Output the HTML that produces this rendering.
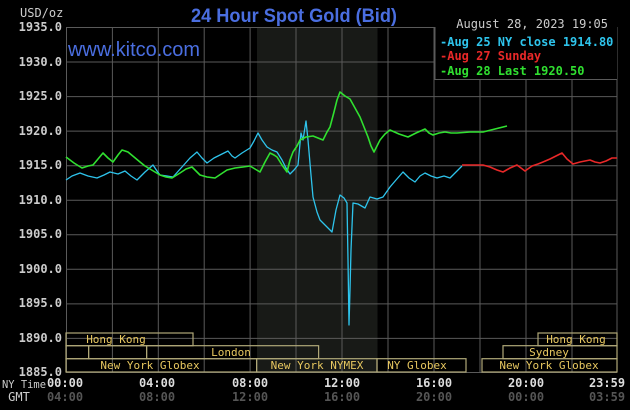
<!DOCTYPE html>
<html><head><meta charset="utf-8"><style>
body{margin:0;background:#000;}
svg{display:block}
.m{font-family:"DejaVu Sans Mono","Liberation Mono",monospace;}
</style></head><body>
<svg width="630" height="410" viewBox="0 0 630 410" xmlns="http://www.w3.org/2000/svg">
<rect width="630" height="410" fill="#000"/>
<rect x="257" y="27" width="120.5" height="345.5" fill="#181a17"/>
<g stroke="#5a5a5a" stroke-width="1">
<line x1="66" y1="27.5" x2="617" y2="27.5"/><line x1="66" y1="62" x2="617" y2="62"/>
<line x1="66" y1="96.6" x2="617" y2="96.6"/><line x1="66" y1="131.1" x2="617" y2="131.1"/>
<line x1="66" y1="165.7" x2="617" y2="165.7"/><line x1="66" y1="200.2" x2="617" y2="200.2"/>
<line x1="66" y1="234.8" x2="617" y2="234.8"/><line x1="66" y1="269.3" x2="617" y2="269.3"/>
<line x1="66" y1="303.9" x2="617" y2="303.9"/><line x1="66" y1="338.4" x2="617" y2="338.4"/>
<line x1="66" y1="372.5" x2="617" y2="372.5"/>
<line x1="66.5" y1="27" x2="66.5" y2="372"/><line x1="112.4" y1="27" x2="112.4" y2="372"/>
<line x1="158.3" y1="27" x2="158.3" y2="372"/><line x1="204.2" y1="27" x2="204.2" y2="372"/>
<line x1="250.1" y1="27" x2="250.1" y2="372"/><line x1="296" y1="27" x2="296" y2="372"/>
<line x1="342" y1="27" x2="342" y2="372"/><line x1="388" y1="27" x2="388" y2="372"/>
<line x1="434" y1="27" x2="434" y2="372"/><line x1="480" y1="27" x2="480" y2="372"/>
<line x1="526" y1="27" x2="526" y2="372"/><line x1="572" y1="27" x2="572" y2="372"/>
<line x1="617" y1="27" x2="617" y2="372"/>
</g>
<rect x="435" y="27" width="182" height="52" fill="#000"/>
<line x1="435" y1="79.5" x2="617" y2="79.5" stroke="#5a5a5a"/>
<line x1="435" y1="27" x2="435" y2="80" stroke="#5a5a5a"/>
<g class="m" font-size="12" fill="#ccc" text-anchor="end" font-weight="bold">
<text x="62" y="31">1935.0</text><text x="62" y="66">1930.0</text><text x="62" y="100">1925.0</text>
<text x="62" y="135">1920.0</text><text x="62" y="169">1915.0</text><text x="62" y="204">1910.0</text>
<text x="62" y="238">1905.0</text><text x="62" y="273">1900.0</text><text x="62" y="307">1895.0</text>
<text x="62" y="342">1890.0</text><text x="62" y="376">1885.0</text>
</g>
<text x="20" y="17" class="m" font-size="12" fill="#ccc">USD/oz</text>
<text x="294" y="22" font-family="Liberation Sans,sans-serif" font-size="19" font-weight="bold" fill="#4a6ee0" text-anchor="middle" textLength="206" lengthAdjust="spacingAndGlyphs">24 Hour Spot Gold (Bid)</text>
<text x="608" y="28" class="m" font-size="12" fill="#ccc" text-anchor="end">August 28, 2023 19:05</text>
<text x="68" y="56" font-family="Liberation Sans,sans-serif" font-size="20" fill="#4a6ee0" textLength="132" lengthAdjust="spacingAndGlyphs">www.kitco.com</text>
<g class="m" font-size="12" font-weight="bold">
<text x="440" y="46" fill="#2ec4ec">-Aug 25 NY close 1914.80</text>
<text x="440" y="60" fill="#e82828">-Aug 27 Sunday</text>
<text x="440" y="75" fill="#30e030">-Aug 28 Last 1920.50</text>
</g>
<g fill="none" stroke-width="1.3" stroke-linejoin="round">
<polyline stroke="#2ec4ec" points="66,180 72,176 80,173 88,176 97,178 104,175 110,172 118,174 125,171 131,176 137,180 145,172 153,165 157,171 160,175 167,176 173,177 182,167 190,158 197,152 202,158 207,163 214,158 220,155 228,151 232,156 235,158 242,153 250,148 254,141 258,133 262,140 267,147 272,150 277,152 282,160 286,168 290,174 294,170 298,165 301,133 303,140 306,121 308,140 311,175 313,197 317,212 320,220 324,224 327,227 330,230 332,232 336,210 340,195 344,198 347,203 348,260 349,325 350,290 351,250 353,203 358,204 365,208 370,197 377,199 383,197 390,187 396,180 403,172 409,178 415,182 420,176 425,173 431,176 437,178 444,176 450,178 456,172 462,166"/>
<polyline stroke="#30e030" stroke-width="1.6" points="66,157 74,163 82,168 88,166 93,165 98,159 103,153 108,158 113,162 118,155 122,150 128,152 134,157 140,162 145,166 150,169 155,172 160,175 166,177 172,178 180,173 186,169 192,167 196,171 200,175 207,177 215,178 221,174 227,170 235,168 243,167 250,166 255,169 260,172 265,162 270,153 274,155 277,157 282,165 287,172 290,160 293,152 297,146 300,140 306,137 313,136 318,138 323,140 327,132 330,127 334,112 337,100 340,92 345,96 350,99 355,108 360,117 364,127 368,137 371,146 374,152 377,146 380,140 385,134 390,130 399,134 408,137 416,133 425,129 429,133 433,135 439,133 445,132 451,133 457,133 470,132 483,132 495,129 507,126"/>
<polyline stroke="#e82828" stroke-width="1.6" points="462,165 472,165 483,165 490,167 497,170 503,172 510,168 517,165 521,168 525,171 532,166 538,164 543,162 550,159 556,156 562,153 567,159 573,164 580,162 590,160 595,162 600,163 606,161 612,158 617,158"/>
</g>
<g stroke="#b0a878" stroke-width="1.2" fill="none">
<rect x="66" y="333" width="127" height="12.7"/>
<rect x="66" y="345.7" width="22.6" height="13"/>
<rect x="88.6" y="345.7" width="58" height="13"/>
<rect x="146.6" y="345.7" width="172" height="13"/>
<rect x="66" y="358.7" width="190.6" height="13.3"/>
<rect x="256.6" y="358.7" width="120.4" height="13.3"/>
<rect x="377" y="358.7" width="89" height="13.3"/>
<rect x="482" y="358.7" width="135" height="13.3"/>
<rect x="503" y="345.7" width="114" height="13"/>
<rect x="538" y="333" width="79" height="12.7"/>
</g>
<g class="m" font-size="11" fill="#e8c860" text-anchor="middle">
<text x="116" y="343">Hong Kong</text>
<text x="231" y="356">London</text>
<text x="150" y="369">New York Globex</text>
<text x="317" y="369">New York NYMEX</text>
<text x="417" y="369">NY Globex</text>
<text x="576" y="343">Hong Kong</text>
<text x="549" y="356">Sydney</text>
<text x="549" y="369">New York Globex</text>
</g>
<g class="m" font-size="12" text-anchor="middle" font-weight="bold">
<text x="24" y="388" fill="#ccc" font-size="11" font-weight="normal" textLength="44" lengthAdjust="spacingAndGlyphs">NY Time</text>
<text x="19" y="401" fill="#ccc" font-weight="normal">GMT</text>
<g fill="#ddd">
<text x="65" y="387">00:00</text><text x="157" y="387">04:00</text><text x="250" y="387">08:00</text>
<text x="342" y="387">12:00</text><text x="434" y="387">16:00</text><text x="526" y="387">20:00</text>
<text x="607" y="387">23:59</text></g>
<g fill="#555">
<text x="65" y="401">04:00</text><text x="157" y="401">08:00</text><text x="250" y="401">12:00</text>
<text x="342" y="401">16:00</text><text x="434" y="401">20:00</text><text x="526" y="401">00:00</text>
<text x="607" y="401">03:59</text></g>
</g>
</svg>
</body></html>
